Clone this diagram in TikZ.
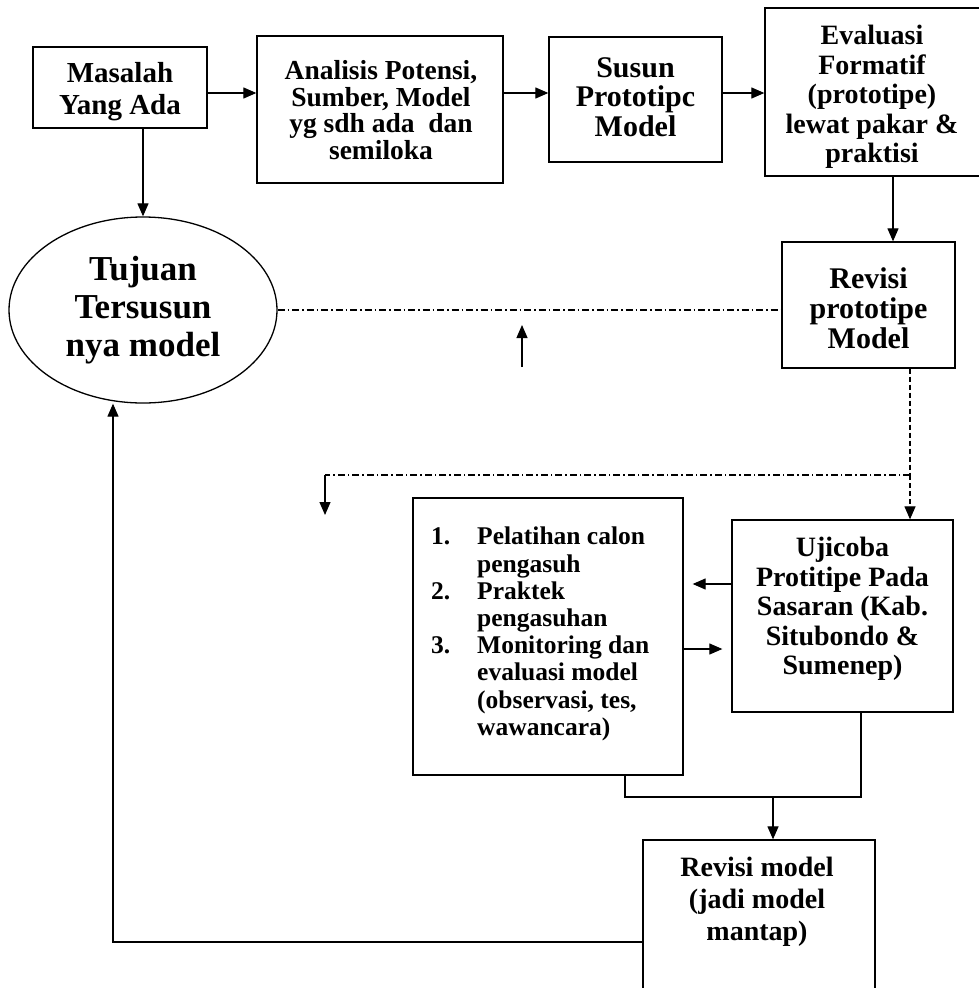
\documentclass[tikz,border=0pt]{standalone}
\usepackage{fontspec}
\setmainfont{Liberation Serif}
\usetikzlibrary{arrows.meta,shapes.geometric}
\begin{document}
\begin{tikzpicture}[x=1pt,y=-1pt,
  box/.style={draw, line width=1.3pt, inner sep=0pt},
  txt/.style={inner sep=0pt, align=center},
  conn/.style={line width=1.2pt},
  arr/.style={conn, -{Triangle[length=13pt,width=11pt]}},
  dd/.style={conn, dash pattern=on 7pt off 3pt on 1.5pt off 3pt},
  sdash/.style={conn, dash pattern=on 5pt off 3pt},
  fA/.style={font=\fontsize{29}{32}\selectfont\bfseries},
  fB/.style={font=\fontsize{27.5}{26.5}\selectfont\bfseries},
  fS/.style={font=\fontsize{30}{29.5}\selectfont\bfseries},
  fC/.style={font=\fontsize{28}{29.5}\selectfont\bfseries},
  fR/.style={font=\fontsize{30}{30}\selectfont\bfseries},
  fD/.style={font=\fontsize{35}{38}\selectfont\bfseries},
  fE/.style={font=\fontsize{25.5}{27.2}\selectfont\bfseries},
  fF/.style={font=\fontsize{28}{32}\selectfont\bfseries}]
\useasboundingbox (0,0) rectangle (979,988);
\fill[white] (0,0) rectangle (979,988);

% boxes
\node[box, minimum width=174pt, minimum height=81pt] (mas) at (120,87.5) {};
\node[txt, fA] (mast) at (120,92) {Masalah\\Yang Ada};
\node[box, minimum width=246pt, minimum height=147pt] (ana) at (380,109.5) {};
\node[txt, fB] (anat) at (381,110) {Analisis Potensi,\\Sumber, Model\\yg sdh ada~ dan\\semiloka};
\node[box, minimum width=173pt, minimum height=125pt] (sus) at (635.5,99.5) {};
\node[txt, fS] (sust) at (635.5,97) {Susun\\Prototipc\\Model};
\node[box, minimum width=217pt, minimum height=168pt] (eva) at (873.5,92) {};
\node[txt, fC] (evat) at (872,97) {Evaluasi\\Formatif\\(prototipe)\\lewat pakar \&\\praktisi};
\node[box, minimum width=173pt, minimum height=126pt] (rp) at (868.5,305) {};
\node[txt, fR] (rpt) at (868.5,308) {Revisi\\prototipe\\Model};
\node[box, minimum width=221pt, minimum height=192pt] (uji) at (842.5,616) {};
\node[txt, fC] (ujit) at (842.5,609) {Ujicoba\\Protitipe Pada\\Sasaran (Kab.\\Situbondo \&\\Sumenep)};
\node[box, minimum width=270pt, minimum height=277pt] (pel) at (548,636.5) {};
\node[fE, align=left, inner sep=0pt, anchor=west] (pelt) at (431,634) {%
\makebox[46pt][l]{1.}Pelatihan calon\\
\hspace*{46pt}pengasuh\\
\makebox[46pt][l]{2.}Praktek\\
\hspace*{46pt}pengasuhan\\
\makebox[46pt][l]{3.}Monitoring dan\\
\hspace*{46pt}evaluasi model\\
\hspace*{46pt}(observasi, tes,\\
\hspace*{46pt}wawancara)};
\node[box, minimum width=232pt, minimum height=170pt] (rm) at (759,925) {};
\node[txt, fF] (rmt) at (757,902) {Revisi model\\(jadi model\\mantap)};
\node[draw, ellipse, line width=1.3pt, inner sep=0pt, minimum width=268pt, minimum height=186pt, fD, align=center] (ell) at (143,310) {Tujuan\\Tersusun\\nya model};

% helper coordinates
\coordinate (y93) at (0,93);
\coordinate (x893) at (893,0);
\coordinate (x910) at (910,0);
\coordinate (upA) at (522,367);
\coordinate (upB) at (522,325);
\coordinate (br) at (910,475);
\coordinate (corner) at (325,475);
\coordinate (tipd) at (325,515);
\coordinate (y584) at (0,584);
\coordinate (y649) at (0,649);
\coordinate (x625) at (625,0);
\coordinate (x861) at (861,0);
\coordinate (x773) at (773,0);
\coordinate (y797) at (0,797);
\coordinate (y942) at (0,942);
\coordinate (x113) at (113,0);

% connectors
\draw[arr] (mas.east |- y93) -- (ana.west |- y93);
\draw[arr] (ana.east |- y93) -- (sus.west |- y93);
\draw[arr] (sus.east |- y93) -- (eva.west |- y93);
\draw[arr] (eva.south -| x893) -- (rp.north -| x893);
\draw[arr] (mas.south -| ell.north) -- (ell.north);
\draw[dd] (ell.east) -- (ell.east -| rp.west);
\draw[arr] (upA) -- (upB);
\draw[sdash] (rp.south -| x910) -- (br);
\draw[sdash, -{Triangle[length=13pt,width=11pt]}] (br) -- (uji.north -| x910);
\draw[dd] (br) -- (corner);
\draw[arr] (corner) -- (tipd);
\draw[arr, shorten >=9pt] (uji.west |- y584) -- (pel.east |- y584);
\draw[arr, shorten >=9pt] (pel.east |- y649) -- (uji.west |- y649);
\draw[conn] (pel.south -| x625) -- (x625 |- y797) -- (x861 |- y797) -- (uji.south -| x861);
\draw[arr] (x773 |- y797) -- (rm.north -| x773);
\draw[arr] (rm.west |- y942) -- (x113 |- y942) -- (ell.south -| x113);
\end{tikzpicture}
\end{document}
